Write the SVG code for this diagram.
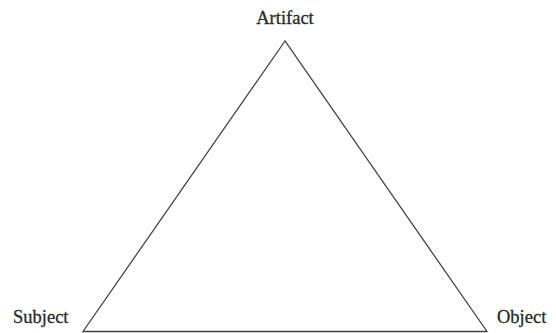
<svg xmlns="http://www.w3.org/2000/svg" width="556" height="333" viewBox="0 0 556 333">
<style>
text{font-family:"Liberation Serif","DejaVu Serif",serif;font-size:18.5px;fill:#2a2a2a;stroke:#2a2a2a;stroke-width:0.3}
.edge{stroke:#444;stroke-width:1.3;fill:none}
</style>
<rect width="556" height="333" fill="#fff"/>
<g id="connectors">
<path class="edge" d="M285 41 L83 331.5 L487 331.5 Z" stroke-linejoin="miter"/>
</g>
<g id="artifact"><text x="285" y="24" text-anchor="middle">Artifact</text></g>
<g id="subject"><text x="13" y="323">Subject</text></g>
<g id="object"><text x="497" y="323">Object</text></g>
</svg>
